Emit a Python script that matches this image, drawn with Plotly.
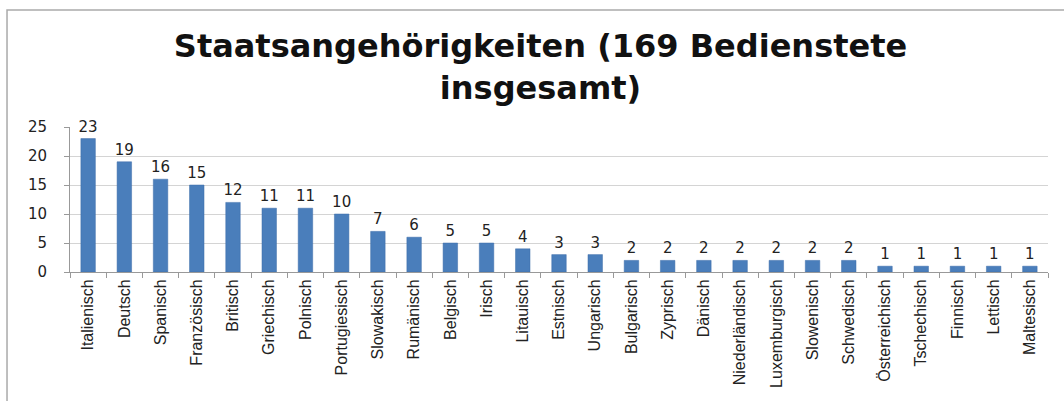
import plotly.graph_objects as go

categories = ["Italienisch", "Deutsch", "Spanisch", "Französisch", "Britisch", "Griechisch",
              "Polnisch", "Portugiesisch", "Slowakisch", "Rumänisch", "Belgisch", "Irisch",
              "Litauisch", "Estnisch", "Ungarisch", "Bulgarisch", "Zyprisch", "Dänisch",
              "Niederländisch", "Luxemburgisch", "Slowenisch", "Schwedisch", "Österreichisch",
              "Tschechisch", "Finnisch", "Lettisch", "Maltesisch"]
values = [23, 19, 16, 15, 12, 11, 11, 10, 7, 6, 5, 5, 4, 3, 3, 2, 2, 2, 2, 2, 2, 2, 1, 1, 1, 1, 1]
title_text = "<b>Staatsangehörigkeiten (169 Bedienstete<br>insgesamt)</b>"
y_ticks = [0, 5, 10, 15, 20, 25]

fig = go.Figure(go.Bar(
    x=categories, y=values, text=[str(v) for v in values], textposition="outside",
    constraintext="none",
    marker=dict(color="#4a7ebb", line=dict(color="#3c6ca8", width=0.5)),
    textfont=dict(family="DejaVu Sans", size=15, color="#222"),
    cliponaxis=False, width=0.4,
))

fig.update_layout(
    width=1064, height=401,
    margin=dict(l=70, r=16, t=127, b=129),
    paper_bgcolor="white", plot_bgcolor="white",
    title=dict(text=title_text, x=0.508, xanchor="center", yref="container", y=0.858, yanchor="top",
               font=dict(family="DejaVu Sans", size=32, color="#111")),
    showlegend=False,
)
fig.update_yaxes(range=[0, 25], tickvals=y_ticks, showgrid=True, gridcolor="#d4d4d4",
                 gridwidth=1, showline=True, linecolor="#999", ticks="outside",
                 tickcolor="#999", ticklen=5, automargin=False, ticklabelstandoff=14,
                 tickfont=dict(family="DejaVu Sans", size=15, color="#222"), zeroline=False)
fig.update_xaxes(showline=True, linecolor="#999", ticks="outside", tickcolor="#999", ticklen=5,
                 tickson="boundaries", tickangle=-90, automargin=False,
                 tickfont=dict(family="Liberation Sans", size=16, color="#222"))
fig.add_shape(type="rect", xref="paper", yref="paper", x0=-0.0644, x1=1.05, y0=-2, y1=1.807,
              line=dict(color="#aaaaaa", width=1.5), fillcolor="rgba(0,0,0,0)", layer="below")

fig.write_html("out.html", config={"displayModeBar": False},
               post_script="document.body.style.margin='0px';")
